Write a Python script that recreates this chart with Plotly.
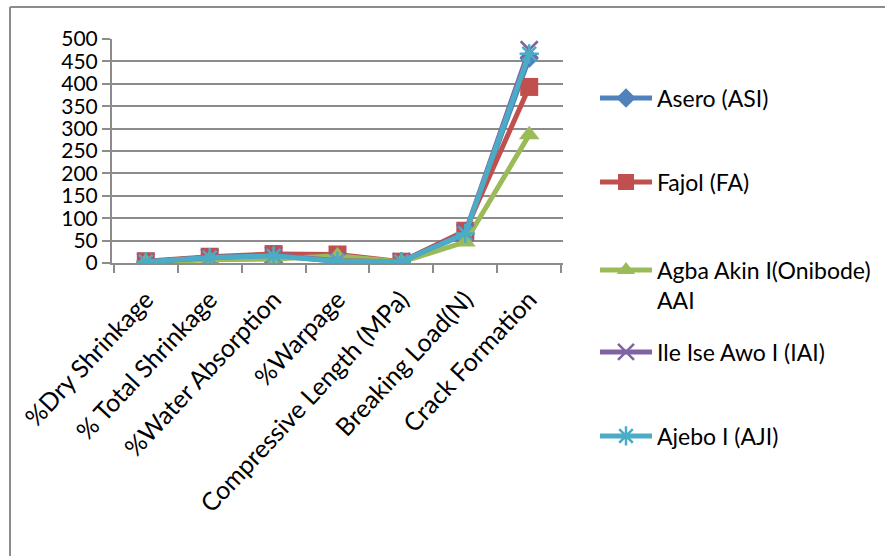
import plotly.graph_objects as go

# Test results per clay sample
categories = ["%Dry Shrinkage", "% Total Shrinkage", "%Water Absorption", "%Warpage",
              "Compressive Length (MPa)", "Breaking Load(N)", "Crack Formation"]
asero = [3, 12, 16, 4, 3, 65, 457]
fajol = [4, 14, 20, 19, 3, 72, 393]
agba = [2, 7, 9, 16, 2, 47, 286]
ile_ise = [3, 12, 17, 5, 3, 68, 476]
ajebo = [3, 12, 16, 4, 3, 66, 467]

names = ["Asero (ASI)", "Fajol (FA)", "Agba Akin I(Onibode)<br>AAI",
         "Ile Ise Awo I (IAI)", "Ajebo I (AJI)"]
series = [asero, fajol, agba, ile_ise, ajebo]
colors = ["#4F81BD", "#C0504D", "#9BBB59", "#8064A2", "#4BACC6"]
symbols = ["diamond", "square", "triangle-up", "x-thin", "asterisk"]
sizes = [15, 18, 18, 17, 16]
legend_ids = ["legend", "legend2", "legend3", "legend4", "legend5"]
legend_centers = [98, 182, 285, 352, 436]  # px from top

W, H = 888, 556
FONT = "Lato"

fig = go.Figure()
for name, ys, col, sym, sz, lg in zip(names, series, colors, symbols, sizes, legend_ids):
    line_marker = sym in ("x-thin", "asterisk")
    fig.add_trace(go.Scatter(
        x=categories, y=ys, name=name, mode="lines+markers",
        line=dict(color=col, width=5),
        marker=dict(symbol=sym, size=sz, color=col,
                    line=dict(color=col, width=2.5 if line_marker else 0)),
        legend=lg,
    ))

layout_legends = {}
for lg, cy in zip(legend_ids, legend_centers):
    layout_legends[lg] = dict(
        xref="container", yref="container", x=595 / W, y=1 - cy / H,
        xanchor="left", yanchor="middle", valign="top",
        bgcolor="rgba(0,0,0,0)", itemwidth=52,
        font=dict(family=FONT, size=23, color="black"),
    )

grid = "#8C8C8C"
fig.update_layout(
    width=W, height=H,
    margin=dict(l=112, r=W - 563, t=39, b=H - 263),
    paper_bgcolor="white", plot_bgcolor="white",
    font=dict(family=FONT, size=22, color="black"),
    showlegend=True,
    xaxis=dict(
        showline=True, linecolor=grid, linewidth=2,
        ticks="outside", tickson="boundaries", ticklen=8, tickcolor=grid, tickwidth=2,
        tickangle=-47, showgrid=False, ticklabelstandoff=10,
        tickfont=dict(family=FONT, size=25, color="black"),
    ),
    yaxis=dict(
        range=[0, 500], dtick=50, showline=True, linecolor=grid, linewidth=2,
        ticks="outside", ticklen=8, tickcolor=grid, tickwidth=2,
        showgrid=True, gridcolor=grid, gridwidth=2, zeroline=False,
        tickfont=dict(family=FONT, size=21, color="black"),
    ),
    shapes=[
        # chart frame (left and top edges)
        dict(type="line", xref="paper", yref="paper",
             x0=-102 / 451, x1=-102 / 451, y0=(263 - 7) / 224, y1=(263 - 560) / 224,
             line=dict(color="#8C8C8C", width=2)),
        dict(type="line", xref="paper", yref="paper",
             x0=-102 / 451, x1=(885 - 112) / 451, y0=(263 - 7) / 224, y1=(263 - 7) / 224,
             line=dict(color="#8C8C8C", width=2)),
    ],
    **layout_legends,
)

fig.write_html("out.html")
